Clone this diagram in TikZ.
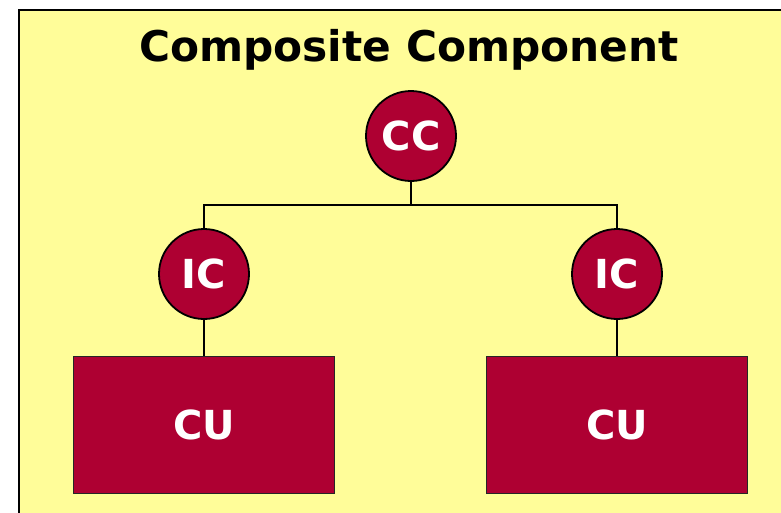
\documentclass[tikz,border=0pt]{standalone}
\usepackage{fontspec}
\setmainfont{DejaVu Sans}
\usetikzlibrary{positioning}

\definecolor{paleyellow}{RGB}{255,253,153}
\definecolor{crimson}{RGB}{174,0,50}

\begin{document}
\begin{tikzpicture}[x=1pt,y=-1pt,line width=1.8pt,
    comp/.style={circle,draw=black,fill=crimson,text=white,minimum size=90pt,
      inner sep=0pt,font=\fontsize{40}{44}\selectfont\bfseries},
    unit/.style={rectangle,draw=black!85,line width=1.3pt,fill=crimson,text=white,
      minimum width=261pt,minimum height=137pt,font=\fontsize{40}{44}\selectfont\bfseries}]

  \useasboundingbox (0,0) rectangle (781,512);
  \clip (0,0) rectangle (781,512);

% the composite component box
  \draw[fill=paleyellow] (19,10) rectangle (820,540);
  \node[font=\fontsize{42.3}{46}\selectfont\bfseries] (title) at (409,50) {Composite Component};

% define the components
  \node[comp] (cc)  at (411,136) {CC};
  \node[comp] (ic1) at (204,274) {IC};
  \node[comp] (ic2) at (617,274) {IC};
  \node[unit] (cu1) [below=36pt of ic1] {CU};
  \node[unit] (cu2) [below=36pt of ic2] {CU};

% define the links
  \coordinate (bus) at (411,205);
  \draw (cc.south) -- (bus) -| (ic1.north);
  \draw (bus) -| (ic2.north);
  \draw (ic1.south) -- (cu1.north);
  \draw (ic2.south) -- (cu2.north);

\end{tikzpicture}
\end{document}
